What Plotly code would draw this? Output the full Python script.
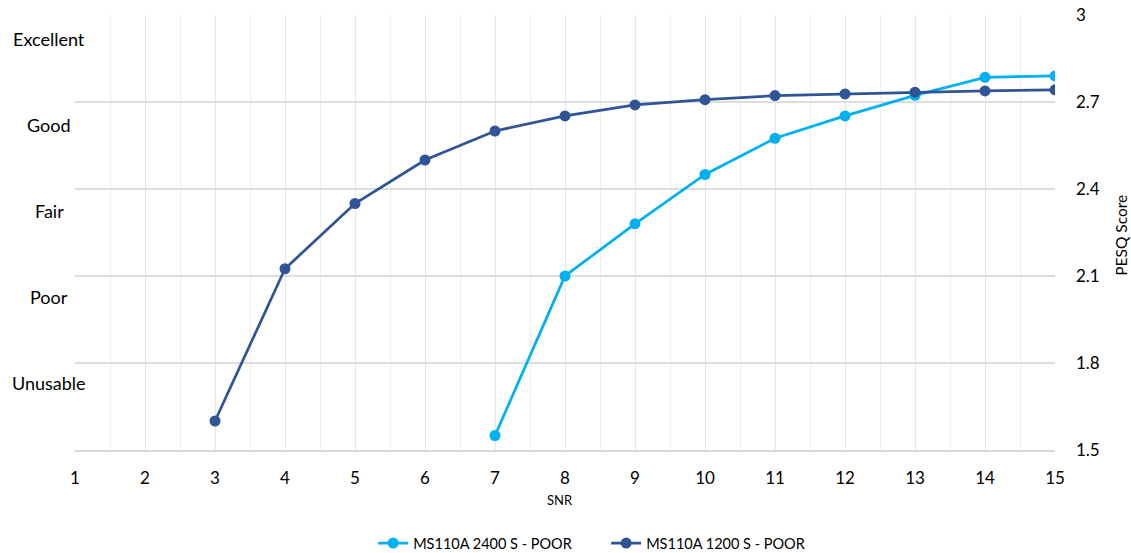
import plotly.graph_objects as go

snr_2400 = [7, 8, 9, 10, 11, 12, 13, 14, 15]
pesq_2400 = [1.55, 2.10, 2.28, 2.45, 2.575, 2.652, 2.723, 2.785, 2.79]

snr_1200 = [3, 4, 5, 6, 7, 8, 9, 10, 11, 12, 13, 14, 15]
pesq_1200 = [1.60, 2.125, 2.35, 2.50, 2.60, 2.652, 2.69, 2.708, 2.722, 2.728, 2.734, 2.738, 2.742]

quality_labels = ["Excellent", "Good", "Fair", "Poor", "Unusable"]
quality_y = [2.917, 2.62, 2.323, 2.027, 1.73]

x_ticks = list(range(1, 16))
y_ticks = [1.5, 1.8, 2.1, 2.4, 2.7, 3.0]
y_tick_text = ["1.5", "1.8", "2.1", "2.4", "2.7", "3"]

FONT = "Lato"
LIGHT = "#00B0F0"
DARK = "#2F5597"

fig = go.Figure()
fig.add_trace(go.Scatter(
    x=snr_2400, y=pesq_2400, mode="lines+markers", name="MS110A 2400 S - POOR",
    line=dict(color=LIGHT, width=2.75), marker=dict(color=LIGHT, size=11),
))
fig.add_trace(go.Scatter(
    x=snr_1200, y=pesq_1200, mode="lines+markers", name="MS110A 1200 S - POOR",
    line=dict(color=DARK, width=2.75), marker=dict(color=DARK, size=11),
))

for lab, yv in zip(quality_labels, quality_y):
    fig.add_annotation(x=0, xref="paper", xshift=-26, y=yv, yref="y", text=lab,
                       showarrow=False, xanchor="center", yanchor="middle",
                       font=dict(family=FONT, size=18, color="#000000"))

fig.add_annotation(x=0.495, xref="paper", y=-0.115, yref="paper", text="SNR",
                   showarrow=False, xanchor="center", yanchor="middle",
                   font=dict(family=FONT, size=13, color="#000000"))
fig.add_annotation(x=1.067, xref="paper", y=0.494, yref="paper", text="PESQ Score",
                   showarrow=False, xanchor="center", yanchor="middle", textangle=-90,
                   font=dict(family=FONT, size=15.5, color="#000000"))

fig.update_layout(
    width=1131, height=553,
    margin=dict(l=75, r=76, t=15, b=103, autoexpand=False),
    plot_bgcolor="white", paper_bgcolor="white",
    font=dict(family=FONT, size=14, color="#000000"),
    showlegend=True,
    legend=dict(orientation="h", x=0.542, xanchor="center", y=-0.214, yanchor="middle",
                entrywidth=188, entrywidthmode="pixels",
                font=dict(family=FONT, size=14.5, color="#000000")),
    xaxis=dict(
        range=[1, 15], tickvals=x_ticks, showgrid=True, gridcolor="#E6E6E6", gridwidth=1,
        minor=dict(dtick=0.5, tick0=1, showgrid=True, gridcolor="#EEEEEE", gridwidth=1),
        zeroline=False, showline=True, linecolor="#D9D9D9", linewidth=1.5,
        tickfont=dict(family=FONT, size=17, color="#000000"), ticks="", ticklabelstandoff=12,
        automargin=False, ticklabeloverflow="allow",
    ),
    yaxis=dict(
        range=[1.5, 3.0], side="right", tickvals=y_ticks, ticktext=y_tick_text,
        showgrid=True, gridcolor="#DDDDDD", gridwidth=1.5, zeroline=False, showline=False,
        tickfont=dict(family=FONT, size=17, color="#000000"), ticks="", ticklabelstandoff=20,
        automargin=False, ticklabeloverflow="allow",
    ),
)

fig.write_html("out.html", config={"displayModeBar": False},
               post_script="document.body.style.margin='0';")
